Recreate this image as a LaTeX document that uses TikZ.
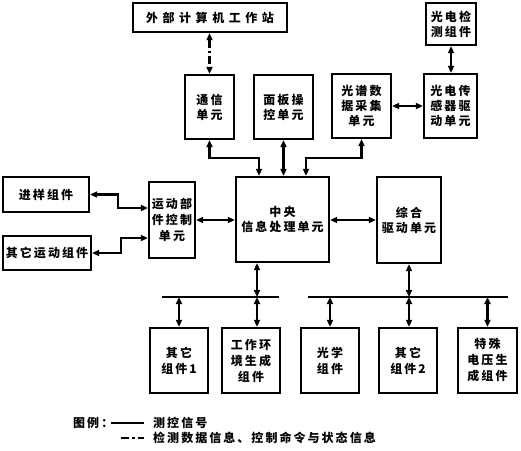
\documentclass[tikz,border=0pt]{standalone}
\usepackage{fontspec}
\newfontfamily\cjk{Noto Sans CJK SC}[LetterSpace=17]
\newfontfamily\cjkwide{Noto Sans CJK SC}[LetterSpace=38]
\usetikzlibrary{arrows.meta}
\begin{document}
\begin{tikzpicture}[x=1pt,y=-1pt,
  box/.style={draw, line width=2.3pt, inner sep=0pt, align=center,
    font=\cjk\bfseries\fontsize{12}{15}\selectfont},
  bbox/.style={box, font=\cjk\bfseries\fontsize{12}{16}\selectfont, minimum width=58pt, minimum height=65pt},
  tip/.tip={Triangle[length=7pt,width=6pt]},
  link/.style={line width=2.2pt, tip-tip},
  ddash/.style={dash pattern=on 8pt off 3pt on 2.5pt off 3pt},
  legtext/.style={inner sep=0pt, anchor=west, font=\cjk\bfseries\fontsize{12}{15}\selectfont}
]
\useasboundingbox (0,0) rectangle (521,450);

% top row
\node[box, font=\cjkwide\bfseries\fontsize{12}{15}\selectfont, minimum width=154pt, minimum height=29pt] (ext) at (210,17.5) {外部计算机工作站};
\node[box, minimum width=49pt, minimum height=64pt] (comm) at (209.5,107) {通信\\单元};
\node[box, minimum width=59pt, minimum height=64pt] (panel) at (283.5,107) {面板操\\控单元};
\node[box, minimum width=59pt, minimum height=64pt] (spec) at (361.5,106) {光谱数\\据采集\\单元};
\node[box, minimum width=53pt, minimum height=64pt] (drv) at (450.5,106) {光电传\\感器驱\\动单元};
\node[box, minimum width=50pt, minimum height=42pt] (det) at (451,24) {光电检\\测组件};

% middle row
\node[box, minimum width=93pt, minimum height=85pt] (cpu) at (282.5,219.5) {中央\\信息处理单元};
\node[box, font=\cjk\bfseries\fontsize{12}{16}\selectfont, minimum width=46pt, minimum height=76pt] (motion) at (172,220) {运动部\\件控制\\单元};
\node[box, minimum width=86pt, minimum height=35pt] (feed) at (46,194.5) {进样组件};
\node[box, minimum width=88pt, minimum height=34pt] (othmot) at (47,253) {其它运动组件};
\node[box, minimum width=64pt, minimum height=86pt] (integ) at (409,220) {综合\\驱动单元};

% bottom row
\node[bbox] (o1) at (179,360.5) {其它\\组件1};
\node[bbox] (env) at (251,360.5) {工作环\\境生成\\组件};
\node[bbox] (opt) at (330,360.5) {光学\\组件};
\node[bbox] (o2) at (408,360.5) {其它\\组件2};
\node[bbox, minimum width=59pt] (spv) at (487.5,360.5) {特殊\\电压生\\成组件};

% coordinates
\coordinate (c1) at (259,158);
\coordinate (c2) at (306,158);
\coordinate (k1) at (118,208);
\coordinate (k2) at (121,238);
\coordinate (bl1) at (162,297);
\coordinate (bl2) at (279,297);
\coordinate (br1) at (308,297);
\coordinate (br2) at (508,297);
\coordinate (j1) at (257,297);

% connectors top
\draw[link, ddash] (comm.north |- ext.south) -- (comm.north);
\draw[link] (det.south) -- (det.south |- drv.north);
\draw[link] (spec.east) -- (spec.east -| drv.west);
\draw[link] (comm.south) |- (c1) -- (c1 |- cpu.north);
\draw[link] (panel.south) -- (panel.south |- cpu.north);
\draw[link] (spec.south) |- (c2) -- (c2 |- cpu.north);

% connectors middle
\draw[link] (motion.east) -- (motion.east -| cpu.west);
\draw[link] (feed.east) -- (feed.east -| k1) -- (k1) -- (k1 -| motion.west);
\draw[link] (othmot.east) -- (othmot.east -| k2) -- (k2) -- (k2 -| motion.west);
\draw[link] (cpu.east |- integ.west) -- (integ.west);

% buses
\draw[line width=2.3pt] (bl1) -- (bl2);
\draw[line width=2.3pt] (br1) -- (br2);
\draw[link] (j1 |- cpu.south) -- (j1);
\draw[link] (integ.south) -- (integ.south |- br1);
\draw[link] (o1.north |- bl1) -- (o1.north);
\draw[link] (j1) -- (j1 |- env.north);
\draw[link] (opt.north |- br1) -- (opt.north);
\draw[link] (integ.south |- br1) -- (integ.south |- o2.north);
\draw[link] (spv.north |- br1) -- (spv.north);

% legend
\node[legtext] (lg) at (73,423) {图例：};
\coordinate (l1a) at (111,423);
\coordinate (l1b) at (144,423);
\draw[line width=1.6pt] (l1a) -- (l1b);
\node[legtext] (lt1) at (153,423) {测控信号};
\coordinate (l2a) at (121,438);
\coordinate (l2b) at (144,438);
\draw[line width=2.2pt, ddash] (l2a) -- (l2b);
\node[legtext] (lt2) at (153,438) {检测数据信息、控制命令与状态信息};
\end{tikzpicture}
\end{document}
